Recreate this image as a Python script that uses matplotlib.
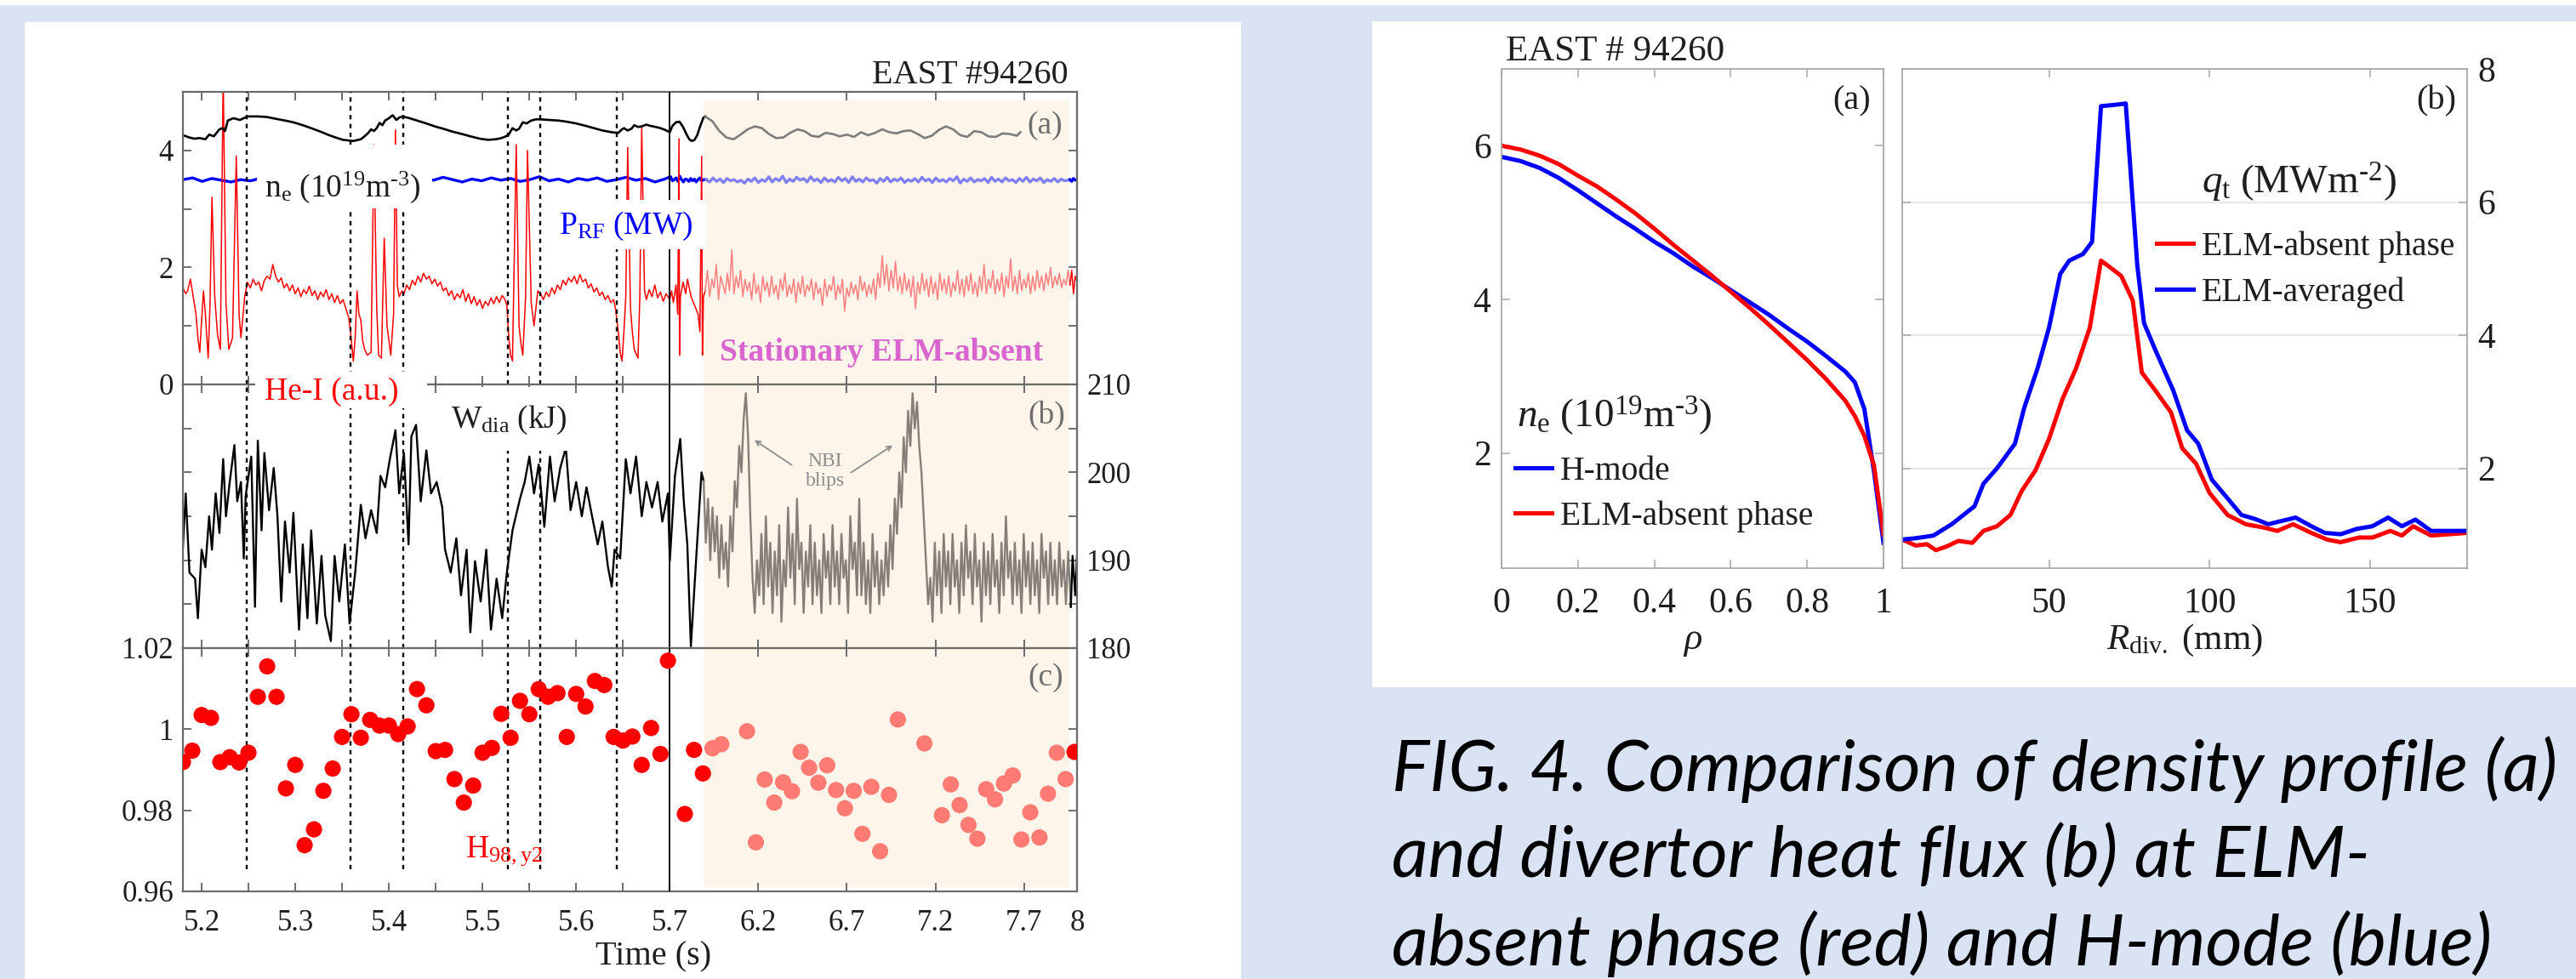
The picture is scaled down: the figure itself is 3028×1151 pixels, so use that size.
import numpy as np
import matplotlib
matplotlib.use("Agg")
import matplotlib.pyplot as plt
from matplotlib.patches import Rectangle

plt.rcParams['font.family'] = 'Liberation Serif'
plt.rcParams['mathtext.fontset'] = 'custom'
plt.rcParams['mathtext.rm'] = 'Liberation Serif'
plt.rcParams['mathtext.it'] = 'Liberation Serif:italic'
plt.rcParams['mathtext.bf'] = 'Liberation Serif:bold'

# ================= data : left figure (EAST #94260 time traces) =================
elm_t = [5.248, 5.359, 5.415, 5.527, 5.562, 5.643]      # dotted ELM markers
t_break = 5.7                                             # axis changes scale here
fade_t0, fade_t1 = 5.89, 7.955                            # stationary ELM-absent window

t_ticks = [5.2, 5.25, 5.3, 5.35, 5.4, 5.45, 5.5, 5.55, 5.6, 5.65, 5.7, 6.2, 6.7, 7.2, 7.7, 8]
t_labels = ['5.2', '', '5.3', '', '5.4', '', '5.5', '', '5.6', '', '5.7', '6.2', '6.7', '7.2', '7.7', '8']

# line-averaged density n_e
ne_t = [5.180, 5.187, 5.192, 5.198, 5.204, 5.208, 5.213, 5.219, 5.222, 5.225,
        5.228, 5.234, 5.241, 5.249, 5.260, 5.270, 5.279, 5.289, 5.298, 5.308,
        5.317, 5.327, 5.336, 5.345, 5.351, 5.362, 5.370, 5.374, 5.378, 5.381,
        5.384, 5.387, 5.390, 5.393, 5.396, 5.400, 5.404, 5.408, 5.411, 5.415,
        5.422, 5.430, 5.440, 5.449, 5.458, 5.468, 5.478, 5.487, 5.497, 5.506,
        5.514, 5.520, 5.525, 5.528, 5.532, 5.536, 5.539, 5.543, 5.547, 5.552,
        5.557, 5.562, 5.571, 5.581, 5.590, 5.600, 5.610, 5.619, 5.628, 5.638,
        5.645, 5.649, 5.651, 5.655, 5.659, 5.662, 5.666, 5.670, 5.675, 5.679,
        5.685, 5.690, 5.695, 5.700, 5.715, 5.735, 5.755, 5.775, 5.795, 5.810,
        5.825, 5.840, 5.855, 5.870, 5.890]
ne_v = [4.26, 4.22, 4.20, 4.21, 4.19, 4.27, 4.24, 4.36, 4.38, 4.33,
        4.51, 4.55, 4.52, 4.58, 4.58, 4.57, 4.54, 4.51, 4.48, 4.43,
        4.38, 4.32, 4.26, 4.21, 4.18, 4.16, 4.19, 4.24, 4.30, 4.36,
        4.33, 4.38, 4.47, 4.43, 4.51, 4.55, 4.60, 4.52, 4.56, 4.58,
        4.55, 4.51, 4.46, 4.41, 4.37, 4.32, 4.28, 4.24, 4.20, 4.18,
        4.19, 4.21, 4.24, 4.27, 4.38, 4.34, 4.37, 4.48, 4.46, 4.51,
        4.53, 4.53, 4.52, 4.51, 4.49, 4.46, 4.42, 4.38, 4.34, 4.31,
        4.30, 4.36, 4.38, 4.34, 4.37, 4.43, 4.40, 4.41, 4.44, 4.42,
        4.40, 4.38, 4.35, 4.31, 4.42, 4.48, 4.49, 4.40, 4.27, 4.19,
        4.16, 4.18, 4.26, 4.40, 4.56]
ne_fade_t = [5.90, 5.94, 5.98, 6.02, 6.06, 6.10, 6.14, 6.18, 6.22, 6.26,
             6.30, 6.34, 6.38, 6.42, 6.46, 6.50, 6.54, 6.58, 6.62, 6.66,
             6.70, 6.74, 6.78, 6.82, 6.86, 6.90, 6.94, 6.98, 7.02, 7.06,
             7.10, 7.14, 7.18, 7.22, 7.26, 7.30, 7.34, 7.38, 7.42, 7.46,
             7.50, 7.54, 7.58, 7.62, 7.66, 7.68]
ne_fade_v = [4.58, 4.50, 4.33, 4.22, 4.19, 4.27, 4.36, 4.41, 4.38, 4.28,
             4.21, 4.22, 4.30, 4.36, 4.33, 4.25, 4.23, 4.30, 4.28, 4.24,
             4.27, 4.23, 4.31, 4.26, 4.30, 4.36, 4.31, 4.29, 4.33, 4.34,
             4.28, 4.21, 4.25, 4.35, 4.41, 4.36, 4.26, 4.23, 4.33, 4.31,
             4.24, 4.23, 4.29, 4.28, 4.25, 4.31]

# RF heating power P_RF (uniformly sampled pieces)
prf_v = [3.50, 3.53, 3.47, 3.52, 3.49, 3.46, 3.50, 3.48, 3.52, 3.55,
         3.50, 3.47, 3.53, 3.56, 3.51, 3.46, 3.49, 3.52, 3.48, 3.45,
         3.50, 3.53, 3.48, 3.51, 3.47, 3.52, 3.49, 3.54, 3.50, 3.46,
         3.51, 3.48, 3.53, 3.49, 3.52, 3.47, 3.50, 3.55, 3.48, 3.51,
         3.46, 3.52, 3.49, 3.53, 3.47, 3.50, 3.54, 3.49, 3.52, 3.46,
         3.51, 3.55, 3.48, 3.50, 3.53, 3.47, 3.56, 3.50, 3.46, 3.51,
         3.50, 3.47, 3.52, 3.48, 3.51, 3.46, 3.50, 3.53, 3.48, 3.50]
prf_fade_v = [3.50, 3.46, 3.53, 3.47, 3.51, 3.45, 3.52, 3.48, 3.50, 3.46,
              3.49, 3.44, 3.51, 3.47, 3.53, 3.45, 3.50, 3.47, 3.55, 3.46,
              3.52, 3.48, 3.56, 3.45, 3.51, 3.47, 3.54, 3.49, 3.52, 3.46,
              3.55, 3.48, 3.51, 3.45, 3.53, 3.47, 3.50, 3.46, 3.54, 3.48,
              3.52, 3.45, 3.55, 3.47, 3.51, 3.46, 3.53, 3.48, 3.50, 3.44,
              3.52, 3.47, 3.54, 3.46, 3.51, 3.48, 3.53, 3.45, 3.50, 3.47,
              3.52, 3.46, 3.54, 3.48, 3.51, 3.45, 3.53, 3.47, 3.50, 3.46,
              3.52, 3.48, 3.55, 3.44, 3.51, 3.47, 3.53, 3.46, 3.50, 3.48,
              3.52, 3.45, 3.54, 3.47, 3.51, 3.46, 3.53, 3.48, 3.50, 3.45,
              3.52, 3.47, 3.54, 3.46, 3.51, 3.48, 3.53, 3.45, 3.50, 3.47,
              3.52, 3.46, 3.51, 3.48, 3.49]
prf_end_v = [3.50, 3.47, 3.52, 3.49, 3.50]

# He-I line emission (a.u.)
hei_t = [5.180, 5.183, 5.185, 5.188, 5.191, 5.194, 5.196, 5.198, 5.200, 5.202,
         5.204, 5.207, 5.209, 5.211, 5.214, 5.217, 5.220, 5.223, 5.226, 5.229,
         5.233, 5.237, 5.240, 5.242, 5.246, 5.249, 5.252, 5.255, 5.258, 5.261,
         5.264, 5.267, 5.270, 5.273, 5.276, 5.279, 5.282, 5.285, 5.288, 5.291,
         5.294, 5.297, 5.300, 5.303, 5.306, 5.309, 5.312, 5.315, 5.318, 5.321,
         5.324, 5.327, 5.330, 5.333, 5.336, 5.339, 5.342, 5.345, 5.348, 5.351,
         5.354, 5.357, 5.359, 5.362, 5.364, 5.366, 5.368, 5.370, 5.372, 5.374,
         5.377, 5.381, 5.384, 5.387, 5.389, 5.392, 5.395, 5.398, 5.402, 5.405,
         5.407, 5.409, 5.411, 5.414, 5.416, 5.419, 5.422, 5.425, 5.428, 5.431,
         5.434, 5.437, 5.440, 5.443, 5.446, 5.449, 5.452, 5.455, 5.458, 5.461,
         5.464, 5.467, 5.470, 5.473, 5.476, 5.479, 5.482, 5.485, 5.488, 5.491,
         5.494, 5.497, 5.500, 5.503, 5.506, 5.509, 5.512, 5.515, 5.518, 5.521,
         5.524, 5.526, 5.528, 5.530, 5.532, 5.536, 5.539, 5.541, 5.543, 5.546,
         5.548, 5.552, 5.555, 5.559, 5.562, 5.565, 5.568, 5.571, 5.574, 5.577,
         5.580, 5.583, 5.586, 5.589, 5.592, 5.595, 5.598, 5.601, 5.604, 5.607,
         5.610, 5.613, 5.616, 5.619, 5.622, 5.625, 5.628, 5.631, 5.634, 5.637,
         5.640, 5.642, 5.645, 5.647, 5.649, 5.651, 5.653, 5.655, 5.658, 5.660,
         5.662, 5.666, 5.668, 5.670, 5.673, 5.675, 5.678, 5.681, 5.684, 5.687,
         5.690, 5.693, 5.696, 5.700, 5.710, 5.720, 5.735, 5.745, 5.752, 5.755,
         5.760, 5.775, 5.790, 5.800, 5.820, 5.840, 5.860, 5.870, 5.880, 5.884, 5.890]
hei_v = [1.65, 1.55, 1.60, 1.80, 1.50, 1.20, 0.80, 0.55, 1.10, 1.60,
         1.20, 0.45, 1.40, 3.20, 1.50, 0.85, 0.60, 5.30, 1.40, 0.60,
         0.80, 3.90, 1.20, 0.80, 1.50, 1.75, 1.65, 1.80, 1.70, 1.75,
         1.60, 1.78, 1.85, 1.80, 2.05, 1.85, 1.75, 1.82, 1.65, 1.72,
         1.60, 1.70, 1.55, 1.65, 1.50, 1.62, 1.55, 1.68, 1.52, 1.60,
         1.45, 1.58, 1.50, 1.62, 1.45, 1.55, 1.40, 1.52, 1.38, 1.45,
         1.30, 1.15, 0.90, 0.40, 0.80, 1.60, 1.20, 1.10, 0.75, 0.60,
         0.50, 0.55, 4.10, 1.30, 0.50, 0.45, 2.50, 1.00, 0.50, 1.20,
         4.35, 1.70, 1.50, 1.60, 1.55, 1.70, 1.62, 1.78, 1.70, 1.85,
         1.75, 1.90, 1.80, 1.85, 1.72, 1.80, 1.68, 1.75, 1.60, 1.65,
         1.52, 1.60, 1.45, 1.55, 1.48, 1.62, 1.42, 1.55, 1.38, 1.50,
         1.35, 1.45, 1.30, 1.42, 1.35, 1.48, 1.38, 1.50, 1.40, 1.52,
         1.45, 1.35, 0.80, 0.50, 0.40, 4.10, 1.00, 0.70, 0.50, 1.50,
         4.00, 1.40, 1.00, 1.60, 1.55, 1.45, 1.58, 1.50, 1.65, 1.55,
         1.70, 1.62, 1.78, 1.70, 1.82, 1.75, 1.85, 1.72, 1.88, 1.75,
         1.80, 1.65, 1.72, 1.58, 1.65, 1.52, 1.58, 1.45, 1.52, 1.40,
         1.45, 1.30, 0.90, 0.55, 0.40, 0.90, 1.50, 4.05, 1.30, 0.90,
         0.60, 0.45, 1.50, 4.40, 1.60, 1.45, 1.62, 1.50, 1.70, 1.48,
         1.58, 1.42, 1.55, 1.45, 1.60, 1.40, 1.70, 1.20, 4.20, 0.50,
         1.50, 1.75, 1.55, 1.80, 1.50, 1.35, 1.20, 0.90, 3.90, 0.50, 1.50]
hei_fade_v = [1.60, 1.95, 1.50, 1.80, 1.65, 2.05, 1.45, 1.85, 1.70, 1.55,
              1.90, 1.60, 2.30, 1.55, 1.85, 1.65, 1.95, 1.50, 1.80, 1.60,
              1.75, 1.45, 1.90, 1.55, 1.70, 1.40, 1.85, 1.60, 1.75, 1.50,
              1.85, 1.55, 1.70, 1.45, 1.80, 1.60, 1.90, 1.50, 1.70, 1.55,
              1.80, 1.40, 1.75, 1.55, 1.85, 1.50, 1.70, 1.60, 1.80, 1.45,
              1.75, 1.55, 1.65, 1.35, 1.80, 1.50, 1.70, 1.60, 1.85, 1.45,
              1.70, 1.55, 1.80, 1.25, 1.65, 1.50, 1.75, 1.55, 1.70, 1.45,
              1.85, 1.60, 1.75, 1.50, 1.70, 1.55, 1.80, 1.45, 1.90, 1.65,
              2.20, 1.70, 2.05, 1.60, 1.95, 1.65, 2.10, 1.60, 1.85, 1.55,
              1.90, 1.60, 1.80, 1.50, 1.85, 1.30, 1.75, 1.55, 1.90, 1.60,
              1.80, 1.50, 1.85, 1.55, 1.75, 1.45, 1.90, 1.60, 1.80, 1.55,
              1.85, 1.50, 1.75, 1.60, 1.95, 1.55, 1.80, 1.50, 1.85, 1.60,
              1.90, 1.55, 1.75, 1.50, 1.85, 1.60, 2.05, 1.55, 1.80, 1.65,
              1.95, 1.55, 1.80, 1.60, 1.90, 1.50, 1.85, 1.65, 2.15, 1.60,
              1.85, 1.55, 1.95, 1.60, 1.80, 1.65, 1.90, 1.55, 1.85, 1.60,
              1.95, 1.65, 1.85, 1.60, 1.90, 1.70, 2.00, 1.65, 1.85, 1.70,
              1.90, 1.65, 1.80, 1.70, 1.95]
hei_end_v = [1.70, 1.95, 1.55, 1.85, 1.75]

# stored energy W_dia (kJ)
wdia_t = [5.180, 5.183, 5.187, 5.193, 5.196, 5.200, 5.204, 5.208, 5.211, 5.215,
          5.219, 5.223, 5.226, 5.230, 5.235, 5.238, 5.242, 5.245, 5.247, 5.253,
          5.257, 5.260, 5.264, 5.267, 5.272, 5.277, 5.281, 5.285, 5.289, 5.294,
          5.298, 5.304, 5.308, 5.313, 5.317, 5.323, 5.328, 5.332, 5.338, 5.342,
          5.347, 5.353, 5.358, 5.364, 5.370, 5.375, 5.381, 5.387, 5.391, 5.396,
          5.401, 5.407, 5.411, 5.416, 5.421, 5.424, 5.429, 5.434, 5.440, 5.445,
          5.451, 5.457, 5.460, 5.466, 5.472, 5.477, 5.483, 5.487, 5.492, 5.498,
          5.504, 5.509, 5.515, 5.521, 5.526, 5.532, 5.540, 5.545, 5.550, 5.555,
          5.560, 5.566, 5.572, 5.577, 5.583, 5.589, 5.594, 5.600, 5.606, 5.611,
          5.617, 5.623, 5.628, 5.634, 5.638, 5.641, 5.647, 5.653, 5.658, 5.664,
          5.670, 5.675, 5.681, 5.687, 5.692, 5.698, 5.700, 5.729, 5.759, 5.779,
          5.799, 5.819, 5.849, 5.879]
wdia_v = [191.5, 197.6, 188.6, 187.9, 183.4, 191.2, 189.2, 195.0, 191.2, 197.6,
          193.1, 201.5, 195.0, 198.9, 203.1, 196.7, 198.9, 190.2, 197.3, 201.8,
          184.7, 203.6, 193.4, 202.2, 195.7, 200.5, 195.0, 185.3, 194.4, 188.6,
          195.4, 182.1, 191.8, 183.4, 193.4, 182.8, 190.5, 183.7, 180.8, 190.5,
          185.3, 191.8, 182.8, 188.6, 196.3, 192.5, 195.7, 193.1, 199.6, 198.3,
          201.5, 204.8, 197.6, 202.2, 191.8, 204.1, 205.4, 196.7, 202.5, 197.6,
          198.9, 196.0, 191.2, 188.6, 192.5, 186.0, 191.2, 181.8, 189.9, 185.3,
          191.2, 182.1, 187.9, 183.4, 188.6, 193.4, 197.0, 198.9, 201.8, 197.6,
          200.9, 193.8, 201.8, 196.7, 200.5, 202.8, 195.7, 198.9, 195.0, 198.3,
          195.0, 191.8, 194.4, 189.2, 187.0, 191.2, 190.2, 201.5, 197.6, 201.8,
          195.0, 198.9, 196.0, 198.9, 194.4, 197.6, 189.9, 199.6, 203.8, 196.7,
          191.8, 180.2, 190.2, 200.0]
# uniformly sampled inside the ELM-absent window
wdia_fade_v = [199, 192, 197, 190, 196, 191, 195, 188, 194, 189,
               192, 187, 195, 191, 199, 196, 203, 200, 206, 209,
               204, 195, 188, 184, 190, 186, 193, 185, 195, 187,
               192, 184, 191, 186, 194, 183, 190, 187, 196, 188,
               193, 185, 197, 189, 192, 184, 191, 187, 194, 185,
               192, 186, 190, 184, 193, 188, 191, 185, 194, 187,
               191, 185, 193, 188, 190, 184, 195, 189, 192, 186,
               197, 186, 192, 185, 190, 184, 193, 187, 191, 185,
               190, 186, 192, 187, 194, 189, 197, 193, 200, 196,
               204, 200, 207, 203, 209, 205, 208, 203, 200, 195,
               190, 185, 188, 183, 192, 186, 191, 184, 193, 187,
               191, 185, 193, 187, 190, 184, 192, 186, 194, 188,
               191, 185, 193, 187, 190, 183, 192, 186, 191, 185,
               193, 187, 190, 184, 192, 186, 195, 188, 191, 185,
               192, 186, 190, 184, 193, 187, 191, 185, 192, 186,
               190, 184, 193, 188, 191, 185, 192, 186, 190, 185,
               192, 187, 190, 185, 191]
wdia_end_t = [7.965, 7.975, 7.99, 8.0]
wdia_end_v = [184.7, 190.5, 186.0, 190.5]

# confinement factor H98,y2
h98_t = [5.18, 5.19, 5.20, 5.21, 5.22, 5.23, 5.24, 5.25, 5.26, 5.27,
         5.28, 5.29, 5.30, 5.31, 5.32, 5.33, 5.34, 5.35, 5.36, 5.37,
         5.38, 5.39, 5.40, 5.41, 5.42, 5.43, 5.44, 5.45, 5.46, 5.47,
         5.48, 5.49, 5.50, 5.51, 5.52, 5.53, 5.54, 5.55, 5.56, 5.57,
         5.58, 5.59, 5.60, 5.61, 5.62, 5.63, 5.64, 5.65, 5.66, 5.67,
         5.68, 5.69, 5.698,
         5.785, 5.837, 5.887, 5.941, 5.991, 6.136, 6.186, 6.236, 6.29, 6.34,
         6.39, 6.439, 6.487, 6.539, 6.589, 6.639, 6.689, 6.739, 6.788, 6.838,
         6.888, 6.938, 6.988, 7.138, 7.237, 7.287, 7.337, 7.387, 7.437, 7.487,
         7.537, 7.587, 7.637, 7.686, 7.736, 7.788, 7.836, 7.886, 7.936, 7.986]
h98_v = [0.9919, 0.9947, 1.0035, 1.0028, 0.9919, 0.9931, 0.9918, 0.9942, 1.0080, 1.0155,
         1.0080, 0.9854, 0.9912, 0.9714, 0.9753, 0.9848, 0.9903, 0.9981, 1.0037, 0.9979,
         1.0023, 1.0009, 1.0009, 0.9988, 1.0007, 1.0099, 1.0059, 0.9946, 0.9949, 0.9877,
         0.9819, 0.9861, 0.9942, 0.9954, 1.0038, 0.9979, 1.0070, 1.0037, 1.0099, 1.0080,
         1.0089, 0.9981, 1.0087, 1.0056, 1.0119, 1.0109, 0.9981, 0.9972, 0.9982, 0.9912,
         1.0003, 0.9939, 1.0169,
         0.9791, 0.9949, 0.9891, 0.9953, 0.9963, 0.9995, 0.9721, 0.9876, 0.9819, 0.9869,
         0.9847, 0.9944, 0.9905, 0.9868, 0.9911, 0.9850, 0.9805, 0.9848, 0.9742, 0.9858,
         0.9699, 0.9838, 1.0024, 0.9965, 0.9788, 0.9864, 0.9813, 0.9764, 0.9730, 0.9852,
         0.9827, 0.9866, 0.9886, 0.9728, 0.9795, 0.9733, 0.9841, 0.9942, 0.9877, 0.9944]

# ================= data : right figure (profiles) =================
rho = [0.0, 0.05, 0.10, 0.15, 0.20, 0.25, 0.30, 0.35, 0.40, 0.45, 0.50, 0.55,
       0.60, 0.65, 0.70, 0.75, 0.80, 0.85, 0.90, 0.925, 0.95, 0.975, 1.0]
ne_hmode = [5.855, 5.80, 5.71, 5.58, 5.42, 5.25, 5.08, 4.92, 4.75, 4.60, 4.43, 4.28,
            4.12, 3.96, 3.80, 3.62, 3.45, 3.26, 3.06, 2.92, 2.57, 1.76, 0.83]
ne_absent = [6.00, 5.95, 5.87, 5.76, 5.61, 5.47, 5.30, 5.12, 4.92, 4.71, 4.51, 4.31,
             4.10, 3.89, 3.67, 3.44, 3.21, 2.96, 2.68, 2.48, 2.22, 1.84, 0.94]

r_avg = [4.3, 8.5, 14.0, 19.7, 26.8, 29.6, 33.8, 39.4, 42.3, 46.5, 50.0, 53.5, 56.3, 60.6,
         63.4, 66.2, 70.4, 73.9, 77.5, 79.6, 83.1, 88.7, 93.0, 96.5, 100.7, 104.2, 109.9,
         114.1, 118.3, 122.5, 126.8, 131.7, 135.9, 140.8, 145.8, 150.7, 155.6, 159.9,
         164.1, 169.0, 174.6, 180.2]
q_avg = [0.93, 0.95, 0.99, 1.16, 1.43, 1.77, 2.00, 2.37, 2.91, 3.51, 4.11, 4.92, 5.12, 5.22,
         5.40, 7.44, 7.46, 7.48, 5.05, 4.18, 3.78, 3.17, 2.57, 2.37, 1.83, 1.63, 1.30,
         1.24, 1.16, 1.21, 1.26, 1.13, 1.03, 1.01, 1.09, 1.13, 1.26, 1.13,
         1.23, 1.06, 1.06, 1.06]
r_absent = [4.3, 8.5, 12.0, 14.8, 18.3, 21.8, 26.1, 29.6, 33.8, 38.0, 41.5, 45.8, 50.0, 54.2,
            58.5, 62.7, 66.2, 69.0, 72.5, 76.1, 78.9, 83.1, 88.0, 91.5, 95.8, 100.0, 105.6,
            111.3, 116.9, 121.1, 126.0, 131.7, 136.6, 140.8, 146.5, 150.7, 156.3, 159.9,
            163.4, 169.0, 180.2]
q_absent = [0.93, 0.84, 0.86, 0.77, 0.83, 0.91, 0.88, 1.06, 1.13, 1.30, 1.66, 1.97, 2.44, 3.04,
            3.51, 4.11, 5.12, 5.02, 4.89, 4.52, 3.44, 3.17, 2.84, 2.30, 2.07, 1.63, 1.30,
            1.16, 1.11, 1.06, 1.16, 1.03, 0.93, 0.89, 0.96, 0.96, 1.06, 0.99,
            1.13, 0.99, 1.03]

caption = ['FIG. 4. Comparison of density profile (a)',
           'and divertor heat flux (b) at ELM-',
           'absent phase (red) and H-mode (blue)']

# ================= layout helpers =================
W, H = 3028, 1151
BG = '#dae3f3'
SHADE = '#fdf5ea'
INK = '#1e1e1e'
HY = '\u2010'  # plain hyphen for the exponents (mathtext turns '-' into a minus)

def box(x, y, w, h):
    # pixel box measured from the top-left -> figure fraction
    return [x / W, 1 - (y + h) / H, w / W, h / H]

def fx(x):
    return x / W

def fy(y):
    return 1 - y / H

K = 208 / 1100  # compression of the time axis after 5.7 s

def fwd(t):
    t = np.asarray(t, float)
    return np.where(t <= t_break, t, t_break + (t - t_break) * K)

def inv(u):
    u = np.asarray(u, float)
    return np.where(u <= t_break, u, t_break + (u - t_break) / K)

def pieces(ax, parts, colors, **kw):
    # plot consecutive pieces, each joined to the first point of the next
    for i, ((t, v), c) in enumerate(zip(parts, colors)):
        t, v = list(t), list(v)
        if i + 1 < len(parts):
            t.append(parts[i + 1][0][0])
            v.append(parts[i + 1][1][0])
        ax.plot(t, v, color=c, **kw)

fig = plt.figure(figsize=(W / 100, H / 100), dpi=100, facecolor=BG)
for x, y, w, h in [(0, 0, W, 6), (29, 26, 1430, 1125), (1613, 25, 1415, 783)]:
    fig.patches.append(Rectangle((x / W, 1 - (y + h) / H), w / W, h / H,
                                 transform=fig.transFigure, facecolor='white',
                                 edgecolor='none', zorder=-5))

# ================= left figure =================
axa = fig.add_axes(box(215, 108, 1051, 344))
axb = fig.add_axes(box(215, 452, 1051, 310))
axc = fig.add_axes(box(215, 762, 1051, 286))

for ax in (axa, axb, axc):
    ax.set_xscale('function', functions=(fwd, inv))
    ax.set_xlim(5.18, 8)
    ax.set_facecolor('white')

axa.axvspan(fade_t0, fade_t1, ymin=0, ymax=0.971, color=SHADE, lw=0, zorder=0)
axb.axvspan(fade_t0, fade_t1, color=SHADE, lw=0, zorder=0)
axc.axvspan(fade_t0, fade_t1, ymin=0.017, ymax=1, color=SHADE, lw=0, zorder=0)

# (a) n_e, P_RF, He-I
prf_t = np.linspace(5.18, fade_t0, len(prf_v))
prf_fade_t = np.linspace(5.905, 7.95, len(prf_fade_v))
prf_end_t = np.linspace(7.96, 8.0, len(prf_end_v))
pieces(axa, [(prf_t, prf_v), (prf_fade_t, prf_fade_v), (prf_end_t, prf_end_v)],
       ['#0000ff', '#8080f4', '#0000ff'], lw=2.4, zorder=2)

hei_fade_t = np.linspace(5.90, 7.95, len(hei_fade_v))
hei_end_t = np.linspace(7.96, 8.0, len(hei_end_v))
pieces(axa, [(hei_t, hei_v), (hei_fade_t, hei_fade_v), (hei_end_t, hei_end_v)],
       ['#ff0000', '#ff8080', '#ff0000'], lw=1.1, zorder=2)

pieces(axa, [(ne_t, ne_v), (ne_fade_t, ne_fade_v)], ['black', '#7d7d7d'], lw=1.9, zorder=2)

axa.set_ylim(0, 5)
axa.set_yticks([0, 1, 2, 3, 4])
axa.set_yticklabels(['0', '', '2', '', '4'])

# (b) W_dia
wdia_fade_t = np.linspace(5.891, 7.95, len(wdia_fade_v))
pieces(axb, [(wdia_t, wdia_v), (wdia_fade_t, wdia_fade_v), (wdia_end_t, wdia_end_v)],
       ['black', '#857f78', 'black'], lw=1.7, zorder=2)
axb.set_ylim(180, 210)
axb.set_yticks([180, 185, 190, 195, 200, 205, 210])
axb.set_yticklabels(['180', '', '190', '', '200', '', '210'])

# (c) H98,y2
h98_t_arr = np.asarray(h98_t)
in_fade = (h98_t_arr > fade_t0) & (h98_t_arr < fade_t1)
dot_colors = np.where(in_fade, '#ff7b73', '#ff0000')
axc.scatter(h98_t, h98_v, s=190, c=list(dot_colors), edgecolors='none', zorder=5)
axc.set_ylim(0.96, 1.02)
axc.set_yticks([0.96, 0.98, 1.0, 1.02])
axc.set_yticklabels(['0.96', '0.98', '1', '1.02'])

for ax, lo in ((axa, 0), (axb, 0), (axc, 0.09)):
    for t in elm_t:
        ax.axvline(t, ymin=lo, ymax=1, color='black', ls=(0, (2.2, 2.2)), lw=1.7, zorder=4)
    ax.axvline(t_break, color='black', lw=1.3, zorder=4)
    ax.set_xticks(t_ticks)
    ax.set_xticklabels(t_labels)
    ax.tick_params(direction='in', top=True, right=True, length=7, width=1.2,
                   color='#555555', labelsize=25, labelcolor=INK, pad=8)
    ax.tick_params(axis='x', pad=15)
    for s in ax.spines.values():
        s.set_color('#6b6b6b')
        s.set_linewidth(1.6)

axa.tick_params(labelbottom=False)
axb.tick_params(labelbottom=False, labelleft=False, labelright=True)

# panel tags and annotations
for ax, (x, y), tag in ((axa, (0.964, 0.884), '(a)'), (axb, (0.966, 0.884), '(b)'),
                        (axc, (0.965, 0.878), '(c)')):
    ax.text(x, y, tag, transform=ax.transAxes, ha='center', va='center',
            fontsize=27, color='#6e6e6e', zorder=6)

axa.text(0.781, 0.108, 'Stationary ELM-absent', transform=axa.transAxes, ha='center',
         va='center', fontsize=27, fontweight='bold', color='#d966cf', zorder=6)
axb.text(0.718, 0.671, 'NBI\nblips', transform=axb.transAxes, ha='center', va='center',
         fontsize=17, color='#8c8c8c', linespacing=1.1, zorder=6)
for tail, head in (((0.683, 0.690), (0.637, 0.794)), ((0.745, 0.661), (0.796, 0.774))):
    axb.annotate('', xy=head, xytext=tail, xycoords='axes fraction',
                 arrowprops=dict(arrowstyle='->', color='#8c8c8c', lw=1.3), zorder=6)

# labels with white masks behind them (they hide the traces)
for x, y, w, h in [(302, 170, 206, 75), (652, 235, 178, 58), (300, 437, 202, 43),
                   (525, 455, 145, 75)]:
    fig.patches.append(Rectangle((x / W, 1 - (y + h) / H), w / W, h / H,
                                 transform=fig.transFigure, facecolor='white',
                                 edgecolor='none', zorder=4))
fig.text(fx(311), fy(231), r'$\mathrm{n_e\ (10^{19}m^{' + HY + r'3})}$', fontsize=27,
         color=INK, va='baseline', zorder=5)
fig.text(fx(657), fy(275), r'$\mathrm{P_{RF}\ (MW)}$', fontsize=27,
         color='#0000ff', va='baseline', zorder=5)
fig.text(fx(311), fy(470), 'He-I (a.u.)', fontsize=27, color='#ff0000',
         va='baseline', zorder=5)
fig.text(fx(530), fy(503), r'$\mathrm{W_{dia}\ (kJ)}$', fontsize=27, color=INK,
         va='baseline', zorder=5)
fig.text(fx(547), fy(1008), r'$\mathrm{H_{98,y2}}$', fontsize=27, color='#ff0000',
         va='baseline', zorder=5)
fig.text(fx(1256), fy(98), 'EAST #94260', fontsize=29, color=INK, ha='right',
         va='baseline')
fig.text(fx(768), fy(1125), 'Time (s)', fontsize=29, color=INK, ha='center', va='center')

# ================= right figure =================
axr1 = fig.add_axes(box(1765, 81, 449, 587))
axr2 = fig.add_axes(box(2236, 81, 664, 587))

axr1.plot(rho, ne_hmode, color='#0000ff', lw=3.6, label='H-mode')
axr1.plot(rho, ne_absent, color='#ff0000', lw=3.6, label='ELM-absent phase')
axr1.set_xlim(0, 1)
axr1.set_ylim(0.5, 7)
axr1.set_xticks([0, 0.2, 0.4, 0.6, 0.8, 1.0])
axr1.set_xticklabels(['0', '0.2', '0.4', '0.6', '0.8', '1'])
axr1.set_yticks([2, 4, 6])
axr1.set_xlabel(r'$\rho$', fontsize=32, color=INK, labelpad=4)
axr1.text(0.04, 0.305, r'$n_{\rm e}\ (10^{19}{\rm m}^{' + HY + r'3})$',
          transform=axr1.transAxes, fontsize=34, color=INK, va='center')
axr1.text(0.917, 0.935, '(a)', transform=axr1.transAxes, fontsize=29, color=INK,
          ha='center', va='center')
axr1.text(0.011, 1.017, 'EAST # 94260', transform=axr1.transAxes, fontsize=31,
          color=INK, va='baseline')
axr1.legend(loc='upper left', bbox_to_anchor=(0.035, 0.225), frameon=False, fontsize=28.5,
            handlelength=1.1, handletextpad=0.25, borderpad=0, borderaxespad=0,
            labelspacing=0.4, labelcolor=INK)

axr2.plot(r_absent, q_absent, color='#ff0000', lw=3.6, label='ELM-absent phase')
axr2.plot(r_avg, q_avg, color='#0000ff', lw=3.6, label='ELM-averaged')
axr2.set_xlim(4.3, 180.2)
axr2.set_ylim(0.5, 8)
axr2.set_xticks([50, 100, 150])
axr2.set_yticks([2, 4, 6, 8])
axr2.grid(axis='y', color='#e4e4e4', lw=1.2, zorder=0)
axr2.set_axisbelow(True)
axr2.set_xlabel(r'$R_{\rm div.}$ (mm)', fontsize=31, color=INK, labelpad=2)
axr2.text(0.53, 0.773, r'$q_{\rm t}\ ({\rm MWm}^{' + HY + r'2})$', transform=axr2.transAxes,
          fontsize=34, color=INK, va='center')
axr2.text(0.946, 0.935, '(b)', transform=axr2.transAxes, fontsize=29, color=INK,
          ha='center', va='center')
axr2.legend(loc='upper left', bbox_to_anchor=(0.45, 0.675), frameon=False, fontsize=28.5,
            handlelength=1.1, handletextpad=0.25, borderpad=0, borderaxespad=0,
            labelspacing=0.4, labelcolor=INK)

for ax in (axr1, axr2):
    ax.tick_params(direction='in', top=True, right=True, length=7, width=1.1,
                   color='#a8a8a8', labelsize=30, labelcolor=INK, pad=9)
    ax.tick_params(axis='x', pad=16)
    for s in ax.spines.values():
        s.set_color('#a8a8a8')
        s.set_linewidth(1.3)
axr2.tick_params(labelleft=False, labelright=True)

# ================= caption =================
cap_texts = []
for line, base in zip(caption, [930, 1032, 1135]):
    cap_texts.append(fig.text(fx(1636), fy(base), line, fontsize=54, style='italic',
                              family=['Lato', 'DejaVu Sans'], color='black',
                              va='baseline'))
renderer = fig.canvas.get_renderer()
width0 = cap_texts[0].get_window_extent(renderer).width
for t in cap_texts:
    t.set_fontsize(54 * 1370 / width0)

fig.savefig('out.png', dpi=100, facecolor=BG)
